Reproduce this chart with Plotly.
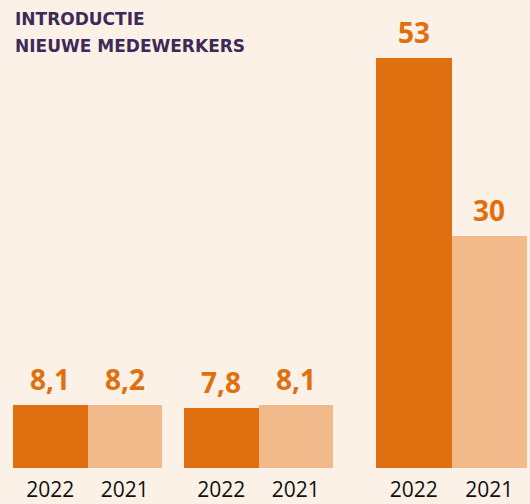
import plotly.graph_objects as go
from plotly.subplots import make_subplots

years = ["2022", "2021"]
group1_values = [8.1, 8.2]
group2_values = [7.8, 8.1]
group3_values = [53, 30]
groups = [group1_values, group2_values, group3_values]
value_labels = [["8,1", "8,2"], ["7,8", "8,1"], ["53", "30"]]
title_lines = ["INTRODUCTIE", "NIEUWE MEDEWERKERS"]

BG = "#fcf1e7"
DARK = "#e06f10"
LIGHT = "#f2b98a"
W, H = 530, 504
PLOT_H = 468

fig = make_subplots(rows=1, cols=3)
domains_px = [(13, 162), (184, 333), (376, 527)]
ymax = 60.5

for i, vals in enumerate(groups):
    col = i + 1
    fig.add_trace(go.Bar(x=years, y=vals, marker=dict(color=[DARK, LIGHT], line=dict(width=0)),
                         showlegend=False, hoverinfo="skip"), row=1, col=col)
    xa = "xaxis" if i == 0 else f"xaxis{col}"
    ya = "yaxis" if i == 0 else f"yaxis{col}"
    fig.layout[xa].update(type="category", range=[-0.5, len(years) - 0.5],
                          domain=[domains_px[i][0] / W, domains_px[i][1] / W],
                          showgrid=False, zeroline=False, showline=False, ticks="",
                          ticklabelstandoff=7, automargin=False,
                          tickfont=dict(family="Open Sans", size=21, color="#111111"))
    fig.layout[ya].update(range=[0, ymax], visible=False, domain=[0, 1], automargin=False)
    xr = "x" if i == 0 else f"x{col}"
    yr = "y" if i == 0 else f"y{col}"
    for k, (v, t) in enumerate(zip(vals, value_labels[i])):
        fig.add_annotation(x=k, y=v, xref=xr, yref=yr, text=t, showarrow=False,
                           yanchor="bottom", yshift=5,
                           font=dict(family="Open Sans", size=28, color=DARK, weight="bold"))

for j, line in enumerate(title_lines):
    fig.add_annotation(x=13 / W, y=1 - (7 + 27 * j) / PLOT_H, xref="paper", yref="paper",
                       xanchor="left", yanchor="top", text=line, showarrow=False,
                       font=dict(family="DejaVu Sans", size=17, color="#3d2a58", weight="bold"))

fig.update_layout(width=W, height=H, margin=dict(l=0, r=0, t=0, b=H - PLOT_H, autoexpand=False),
                  paper_bgcolor=BG, plot_bgcolor=BG, bargap=0)

fig.write_html("out.html", config={"displayModeBar": False},
               post_script="document.body.style.margin='0';document.body.style.background='" + BG + "';")
